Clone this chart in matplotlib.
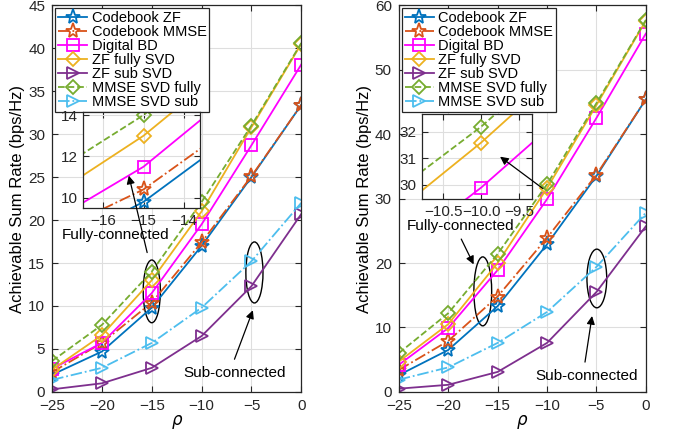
import matplotlib
matplotlib.use("Agg")
import matplotlib.pyplot as plt
from matplotlib.patches import Ellipse

plt.rcParams['font.family'] = ['Liberation Sans', 'DejaVu Sans']

rho = [-25, -20, -15, -10, -5, 0]
labels = ['Codebook ZF', 'Codebook MMSE', 'Digital BD', 'ZF fully SVD',
          'ZF sub SVD', 'MMSE SVD fully', 'MMSE SVD sub']

# left panel
left_cb_zf = [2.0, 4.7, 9.8, 17.0, 25.0, 33.4]
left_cb_mmse = [2.3, 5.7, 10.4, 17.4, 25.1, 33.4]
left_bd = [2.7, 5.7, 11.5, 19.5, 28.7, 38.1]
left_zf_fully = [2.6, 6.6, 13.0, 21.0, 30.8, 40.5]
left_zf_sub = [0.3, 1.0, 2.8, 6.5, 12.3, 20.7]
left_mmse_fully = [3.6, 7.8, 14.0, 22.1, 31.0, 40.6]
left_mmse_sub = [1.4, 2.8, 5.7, 9.8, 15.2, 22.0]

# right panel
right_cb_zf = [2.6, 6.5, 13.3, 22.9, 33.5, 45.4]
right_cb_mmse = [3.4, 7.9, 14.8, 23.9, 33.7, 45.4]
right_bd = [4.2, 9.9, 18.9, 29.9, 42.5, 55.6]
right_zf_fully = [4.7, 10.5, 20.0, 31.6, 44.5, 57.6]
right_zf_sub = [0.5, 1.1, 3.1, 7.6, 15.5, 25.7]
right_mmse_fully = [6.0, 12.2, 21.4, 32.2, 44.8, 57.7]
right_mmse_sub = [1.9, 3.8, 7.6, 12.4, 19.4, 27.8]

styles = [
    dict(color='#0072BD', ls='-', marker='*'),
    dict(color='#D95319', ls='-.', marker='*'),
    dict(color='#FF00FF', ls='-', marker='s'),
    dict(color='#EDB120', ls='-', marker='D'),
    dict(color='#7E2F8E', ls='-', marker='>'),
    dict(color='#77AC30', ls='--', marker='D'),
    dict(color='#4DBEEE', ls='-.', marker='>'),
]
msizes = [11, 11, 8, 7, 9, 7, 9]


def draw_lines(ax, series):
    for s, st, ms, lab in zip(series, styles, msizes, labels):
        ax.plot(rho, s, ls=st['ls'], color=st['color'], marker=st['marker'],
                ms=ms, mfc='none', mec=st['color'], mew=1.3,
                lw=1.3, label=lab)


def style_ax(ax, fs=11):
    ax.grid(True, color='#dedede', lw=0.8)
    ax.set_axisbelow(True)
    ax.tick_params(direction='in', labelsize=fs, colors='#262626', length=4,
                   top=True, right=True, pad=5)
    for sp in ax.spines.values():
        sp.set_color('#262626')
        sp.set_linewidth(0.9)


fig = plt.figure(figsize=(6.77, 4.34), dpi=100)
axL = fig.add_axes([0.077, 0.097, 0.368, 0.891])
axR = fig.add_axes([0.589, 0.097, 0.365, 0.891])

left_series = [left_cb_zf, left_cb_mmse, left_bd, left_zf_fully,
               left_zf_sub, left_mmse_fully, left_mmse_sub]
right_series = [right_cb_zf, right_cb_mmse, right_bd, right_zf_fully,
                right_zf_sub, right_mmse_fully, right_mmse_sub]

for ax, series, ymax, ystep in [(axL, left_series, 45, 5), (axR, right_series, 60, 10)]:
    draw_lines(ax, series)
    ax.set_xlim(-25, 0)
    ax.set_ylim(0, ymax)
    ax.set_xticks(rho)
    ax.set_yticks(range(0, ymax + 1, ystep))
    style_ax(ax, 11)
    ax.set_xlabel(r'$\rho$', fontsize=12, labelpad=0)
    ax.set_ylabel('Achievable Sum Rate (bps/Hz)', fontsize=12, labelpad=2)
    leg = ax.legend(loc='upper left', fontsize=10.5, fancybox=False, framealpha=1,
                    edgecolor='#262626', handlelength=2.0, borderaxespad=0.2,
                    labelspacing=0.0, handletextpad=0.3, borderpad=0.2)
    leg.get_frame().set_linewidth(0.9)

arrow = dict(arrowstyle='-|>', color='black', lw=0.9, mutation_scale=12)

# ellipses and annotations, left
axL.add_patch(Ellipse((-15, 11.7), 1.72, 7.3, fill=False, ec='black', lw=1))
axL.add_patch(Ellipse((-4.7, 13.9), 1.72, 7.1, fill=False, ec='black', lw=1))
axL.text(-18.6, 18.3, 'Fully-connected', fontsize=11, ha='center', va='center')
axL.text(-6.7, 2.2, 'Sub-connected', fontsize=11, ha='center', va='center')
axL.annotate('', xy=(-4.76, 9.8), xytext=(-6.8, 3.5), arrowprops=arrow)

# ellipses and annotations, right
axR.add_patch(Ellipse((-16.5, 15.6), 1.8, 10.7, fill=False, ec='black', lw=1))
axR.add_patch(Ellipse((-4.96, 17.6), 2.0, 9.1, fill=False, ec='black', lw=1))
axR.text(-18.7, 25.7, 'Fully-connected', fontsize=11, ha='center', va='center')
axR.text(-6.0, 2.5, 'Sub-connected', fontsize=11, ha='center', va='center')
axR.annotate('', xy=(-17.3, 19.4), xytext=(-18.8, 24.1), arrowprops=arrow)
axR.annotate('', xy=(-5.4, 12.2), xytext=(-6.2, 4.2), arrowprops=arrow)

# insets
inL = fig.add_axes([0.1226, 0.5207, 0.1728, 0.2212])
draw_lines(inL, left_series)
inL.set_xlim(-16.5, -13.6)
inL.set_ylim(9.5, 14.15)
inL.set_xticks([-16, -15, -14])
inL.set_yticks([10, 12, 14])
style_ax(inL, 11)
inL.tick_params(pad=4)
inL.annotate('', xy=(-15.38, 11.2), xytext=(-15.4, 15.9), textcoords=axL.transData,
             arrowprops=arrow, annotation_clip=False)

inR = fig.add_axes([0.6233, 0.5415, 0.1625, 0.1959])
draw_lines(inR, right_series)
inR.set_xlim(-10.78, -9.33)
inR.set_ylim(29.47, 32.68)
inR.set_xticks([-10.5, -10, -9.5])
inR.set_yticks([30, 31, 32])
style_ax(inR, 11)
inR.tick_params(pad=4)
inR.annotate('', xy=(-9.78, 31.13), xytext=(-10.2, 31.3), textcoords=axR.transData,
             arrowprops=arrow, annotation_clip=False)

fig.savefig('out.png', dpi=100)
